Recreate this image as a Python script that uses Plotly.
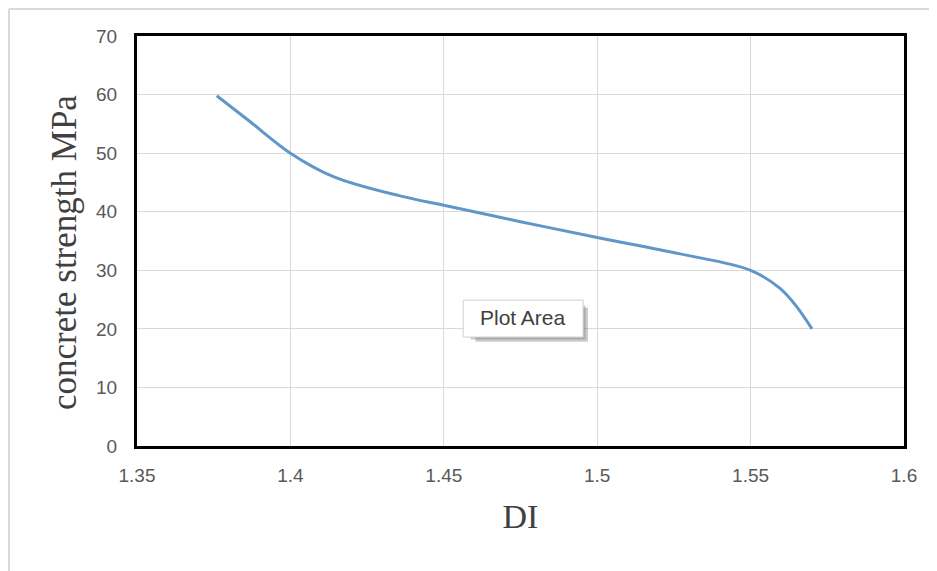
import plotly.graph_objects as go

di = [1.376, 1.3868, 1.40, 1.414, 1.4357, 1.45, 1.475, 1.50, 1.527, 1.55, 1.5596, 1.565, 1.57]
strength = [59.8, 55.4, 50, 46, 42.7, 41.1, 38.3, 35.6, 32.8, 30, 26.9, 23.8, 20]

x_ticks = [1.35, 1.4, 1.45, 1.5, 1.55, 1.6]
x_tick_text = ["1.35", "1.4", "1.45", "1.5", "1.55", "1.6"]
y_ticks = [0, 10, 20, 30, 40, 50, 60, 70]

W, H = 929, 563
L, R, T, B = 129, 33, 28, 125
pw, ph = W - L - R, H - T - B

fig = go.Figure()
fig.add_trace(go.Scatter(
    x=di, y=strength, mode="lines",
    line=dict(color="#6196c9", width=3, shape="spline", smoothing=1.0),
    showlegend=False, hoverinfo="skip"))

fig.update_layout(
    width=W, height=H,
    margin=dict(l=L, r=R, t=T, b=B),
    paper_bgcolor="white", plot_bgcolor="white",
    font=dict(family="Liberation Sans, Arial", color="#595959", size=20),
    xaxis=dict(range=[1.35, 1.6], tickvals=x_ticks, ticktext=x_tick_text,
               showgrid=True, gridcolor="#d9d9d9", gridwidth=1,
               zeroline=False, showline=True, linecolor="black", linewidth=3,
               mirror=True, ticks="", ticklabelstandoff=10,
               tickfont=dict(size=19, color="#595959"),
               title=dict(text="DI", font=dict(family="Liberation Serif, Times New Roman", size=34, color="#404040"),
                          standoff=20)),
    yaxis=dict(range=[0, 70], tickvals=y_ticks,
               showgrid=True, gridcolor="#d9d9d9", gridwidth=1,
               zeroline=False, showline=True, linecolor="black", linewidth=3,
               mirror=True, ticks="", ticklabelstandoff=13,
               tickfont=dict(size=19, color="#595959")),
    shapes=[
        dict(type="line", xref="paper", yref="paper", x0=-(L - 1) / pw, x1=1 + R / pw,
             y0=1 + (T - 1) / ph, y1=1 + (T - 1) / ph,
             line=dict(color="#d9d9d9", width=2), layer="below"),
        dict(type="line", xref="paper", yref="paper", x0=-(L - 1) / pw, x1=-(L - 1) / pw,
             y0=1 + (T - 1) / ph, y1=-B / ph,
             line=dict(color="#d9d9d9", width=2), layer="below"),
        # tooltip shadow
        dict(type="rect", xref="x", yref="y", x0=1.4603, x1=1.4970, y0=17.8, y1=23.6,
             fillcolor="rgba(110,110,110,0.35)", line=dict(width=0), layer="above"),
        dict(type="rect", xref="x", yref="y", x0=1.4588, x1=1.4962, y0=18.2, y1=24.0,
             fillcolor="rgba(110,110,110,0.35)", line=dict(width=0), layer="above"),
        dict(type="rect", xref="x", yref="y", x0=1.4563, x1=1.4954, y0=18.6, y1=24.9,
             fillcolor="white", line=dict(color="#d0d0d0", width=1), layer="above"),
    ],
    annotations=[
        dict(x=1.4758, y=21.9, xref="x", yref="y", text="Plot Area", showarrow=False,
             font=dict(family="Liberation Sans, Arial", size=21, color="#404040")),
        dict(x=(64 - 8 - L) / pw, y=(H - B - (253 - 8)) / ph, xref="paper", yref="paper",
             text="concrete strength MPa", textangle=-90, showarrow=False,
             xanchor="center", yanchor="middle",
             font=dict(family="Liberation Serif, Times New Roman", size=35, color="#404040")),
    ],
)

fig.write_html("out.html")
